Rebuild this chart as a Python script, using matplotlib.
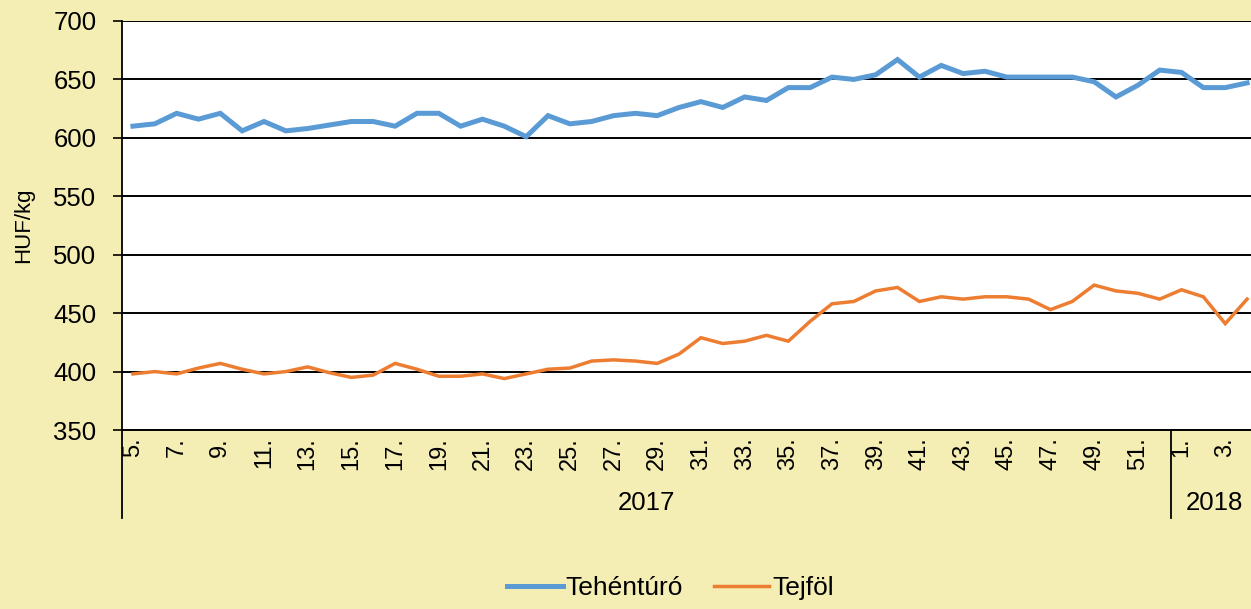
import matplotlib.pyplot as plt
import matplotlib.transforms as mtransforms

plt.rcParams['font.family'] = ['Liberation Sans', 'DejaVu Sans']

# heti adatok: 2017. 5. hét - 2018. 4. hét
weeks = list(range(5, 53)) + [1, 2, 3, 4]
years = ['2017'] * 48 + ['2018'] * 4
tehenturo = [610, 612, 621, 616, 621, 606, 614, 606, 608, 611, 614, 614, 610, 621, 621, 610,
             616, 610, 601, 619, 612, 614, 619, 621, 619, 626, 631, 626, 635, 632, 643, 643,
             652, 650, 654, 667, 652, 662, 655, 657, 652, 652, 652, 652, 648, 635, 645, 658,
             656, 643, 643, 647]
tejfol = [398, 400, 398, 403, 407, 402, 398, 400, 404, 399, 395, 397, 407, 402, 396, 396,
          398, 394, 398, 402, 403, 409, 410, 409, 407, 415, 429, 424, 426, 431, 426, 443,
          458, 460, 469, 472, 460, 464, 462, 464, 464, 462, 453, 460, 474, 469, 467, 462,
          470, 464, 441, 462]

bg = '#F5EEB4'
fig = plt.figure(figsize=(12.51, 6.09), dpi=100, facecolor=bg)
ax = fig.add_axes([122 / 1251, 179 / 609, 1136 / 1251, 409 / 609])
ax.set_facecolor('white')

x = list(range(len(weeks)))
ax.plot(x, tehenturo, color='#5B9BD5', lw=3.6, label='Tehéntúró', solid_joinstyle='miter')
ax.plot(x, tejfol, color='#ED7D31', lw=2.5, label='Tejföl', solid_joinstyle='miter')

ax.set_xlim(-0.5, len(weeks) - 0.5)
ax.set_ylim(350, 700)
ax.set_yticks(range(350, 701, 50))
ax.yaxis.grid(True, color='black', lw=1.4)
ax.set_axisbelow(True)
ax.tick_params(axis='y', labelsize=18.5, length=6.5, width=1.2, pad=12)

ticks = x[::2]
ax.set_xticks(ticks)
ax.set_xticklabels([f'{weeks[i]}.' for i in ticks], rotation=90, fontsize=17)
ax.tick_params(axis='x', length=0, pad=5)

for s in ['top', 'right']:
    ax.spines[s].set_visible(False)
ax.spines['left'].set_linewidth(1.3)
ax.spines['bottom'].set_linewidth(1.4)

ax.set_ylabel('HUF/kg', fontsize=16, labelpad=14)

# év szerinti csoportok a tengely alatt
trans = mtransforms.blended_transform_factory(ax.transData, ax.transAxes)
bounds = [-0.5]
for i in range(1, len(years)):
    if years[i] != years[i - 1]:
        bounds.append(i - 0.5)
bounds.append(len(years) - 0.5)
for b in bounds[:-1]:
    ax.plot([b, b], [0, -0.215], color='black', lw=1.3, transform=trans, clip_on=False)
for a, b in zip(bounds[:-1], bounds[1:]):
    ax.text((a + b) / 2, -0.178, years[int(a + 0.5)], transform=trans,
            ha='center', va='center', fontsize=18.5)

fig.legend(loc='lower center', bbox_to_anchor=(0.536, -0.025), ncol=2, frameon=False,
           fontsize=19, handlelength=2.1, columnspacing=1.15, handletextpad=0.12)

fig.savefig('out.png', dpi=100, facecolor=bg)
